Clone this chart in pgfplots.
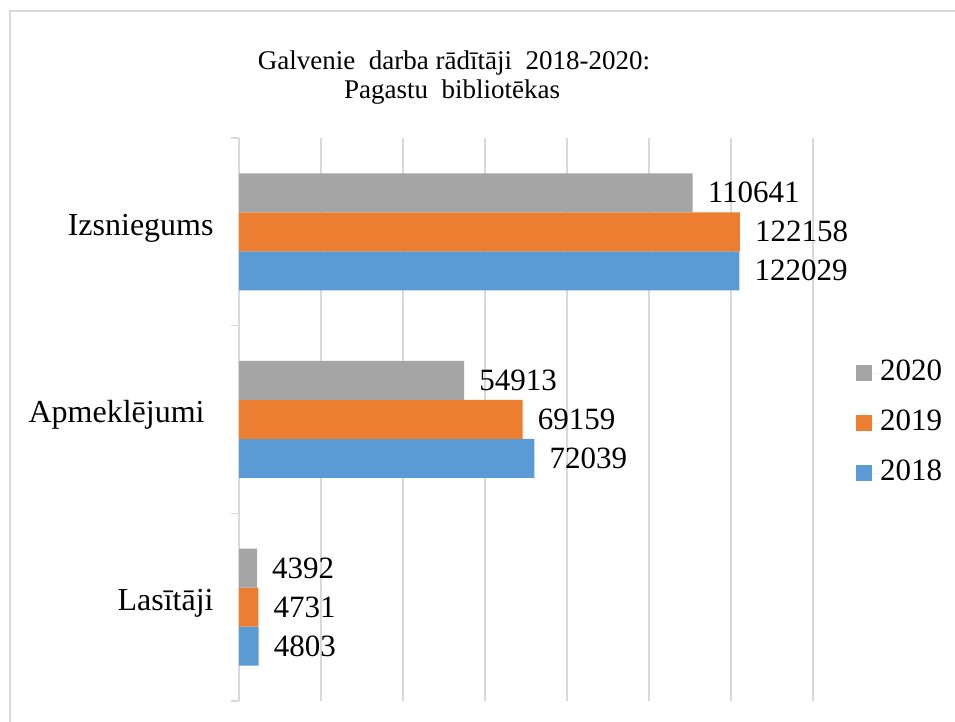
\documentclass[border=0pt]{standalone}
\usepackage{pgfplots}
\pgfplotsset{compat=1.18}
\usepackage{fontspec}
\setmainfont{Liberation Serif}
\definecolor{c18}{HTML}{5B9BD5}
\definecolor{c19}{HTML}{ED7D31}
\definecolor{c20}{HTML}{A5A5A5}
\definecolor{gridc}{HTML}{D9D9D9}
\begin{document}
\begin{tikzpicture}
\useasboundingbox (0,0) rectangle (955bp,722bp);
\fill[white] (0,0) rectangle (955bp,722bp);
\draw[gridc, line width=1.5bp] (10bp,0) -- (10bp,711bp) -- (955bp,711bp);
\node[font=\fontsize{27bp}{31bp}\selectfont, anchor=base] at (454bp,652bp) {Galvenie\ \ darba rādītāji\ \ 2018-2020:};
\node[font=\fontsize{27bp}{31bp}\selectfont, anchor=base] at (452bp,623bp) {Pagastu\ \ bibliotēkas};
\begin{axis}[
  at={(239bp,21bp)}, anchor=south west,
  scale only axis, width=574bp, height=563bp,
  xbar, bar width=39bp,
  xmin=0, xmax=140000, ymin=-0.5, ymax=2.5,
  clip=false,
  scaled x ticks=false,
  axis lines*=left,
  x axis line style={draw=none},
  y axis line style={draw=gridc, line width=1.5bp},
  xtick={0,20000,...,140000}, xticklabels={}, xmajorgrids,
  grid style={draw=gridc, line width=1.5bp},
  xtick style={draw=none},
  ytick={0,1,2}, yticklabels={Lasītāji,Apmeklējumi\hspace*{9bp},Izsniegums},
  ytick style={draw=none},
  yticklabel style={font=\fontsize{32bp}{38bp}\selectfont, xshift=-21bp, inner sep=0pt, text height=0.9em, text depth=0.24em},
  extra y ticks={-0.5,0.5,1.5,2.5}, extra y tick labels={},
  extra y tick style={ytick style={draw=gridc, line width=1.5bp}, major tick length=8bp, tick align=outside},
  point meta=explicit symbolic,
  nodes near coords,
  every node near coord/.append style={anchor=west, inner sep=0pt, xshift=15bp, font=\fontsize{31bp}{37bp}\selectfont, text=black},
  legend style={at={(1,0.5)}, anchor=west, xshift=43bp, yshift=-4bp, draw=none, fill=none,
    inner sep=0pt, font=\fontsize{31bp}{37bp}\selectfont,
    nodes={inner sep=0pt, text height=22bp, text depth=7bp}, row sep=21bp},
  legend cell align=left,
  reverse legend,
]
\addplot[fill=c18, draw=none, bar shift=-39bp, legend image code/.code={\fill[c18] (0bp,-8bp) rectangle (16bp,8bp); \path (0bp,0bp) -- (24bp,0bp);}] coordinates {(4803,0) [4803] (72039,1) [72039] (122029,2) [122029]};
\addplot[fill=c19, draw=none, bar shift=0bp, legend image code/.code={\fill[c19] (0bp,-8bp) rectangle (16bp,8bp); \path (0bp,0bp) -- (24bp,0bp);}] coordinates {(4731,0) [4731] (69159,1) [69159] (122158,2) [122158]};
\addplot[fill=c20, draw=none, bar shift=39bp, legend image code/.code={\fill[c20] (0bp,-8bp) rectangle (16bp,8bp); \path (0bp,0bp) -- (24bp,0bp);}] coordinates {(4392,0) [4392] (54913,1) [54913] (110641,2) [110641]};
\legend{2018,2019,2020}
\end{axis}
\end{tikzpicture}
\end{document}
